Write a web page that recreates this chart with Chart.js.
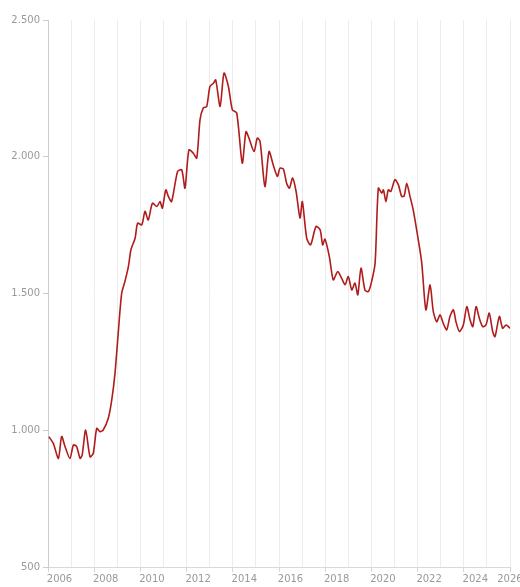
<!DOCTYPE html>
<html>
<head>
<meta charset="utf-8">
<script src="https://cdn.jsdelivr.net/npm/chart.js@4.4.1/dist/chart.umd.min.js"></script>
<style>
  html, body { margin: 0; padding: 0; background: #fff; }
  #wrap { width: 520px; height: 587px; position: relative; }
</style>
</head>
<body>
<div id="wrap"><canvas id="c" width="520" height="587"></canvas></div>
<script>
// Decimal-year positions of the points
const years = [
  2006.04, 2006.23, 2006.45, 2006.59, 2006.74, 2006.95, 2007.10, 2007.24, 2007.39, 2007.48,
  2007.63, 2007.82, 2007.96, 2008.11, 2008.25, 2008.39, 2008.61, 2008.76, 2008.90, 2009.04,
  2009.19, 2009.33, 2009.48, 2009.59, 2009.77, 2009.88, 2010.06, 2010.20, 2010.34, 2010.52,
  2010.71, 2010.85, 2010.95, 2011.10, 2011.21, 2011.35, 2011.61, 2011.79, 2011.93, 2012.10,
  2012.29, 2012.44, 2012.58, 2012.72, 2012.87, 2013.01, 2013.16, 2013.26, 2013.45, 2013.62,
  2013.81, 2013.98, 2014.17, 2014.41, 2014.57, 2014.70, 2014.92, 2015.06, 2015.18, 2015.39,
  2015.57, 2015.75, 2015.93, 2016.04, 2016.19, 2016.33, 2016.45, 2016.59, 2016.74, 2016.91,
  2017.01, 2017.20, 2017.37, 2017.60, 2017.78, 2017.89, 2017.99, 2018.18, 2018.35, 2018.54,
  2018.71, 2018.86, 2019.00, 2019.15, 2019.29, 2019.41, 2019.55, 2019.72, 2019.87, 2020.01,
  2020.16, 2020.30, 2020.45, 2020.52, 2020.63, 2020.73, 2020.84, 2021.02, 2021.17, 2021.31,
  2021.42, 2021.53, 2021.67, 2021.81, 2022.03, 2022.18, 2022.36, 2022.54, 2022.68, 2022.83,
  2022.97, 2023.11, 2023.26, 2023.40, 2023.55, 2023.66, 2023.81, 2023.98, 2024.13, 2024.27,
  2024.39, 2024.53, 2024.67, 2024.82, 2024.96, 2025.10, 2025.25, 2025.35, 2025.54, 2025.68,
  2025.83, 2026.00
];
// Series values
const values = [
  976, 952, 897, 977, 940, 897, 946, 940, 897, 910,
  1001, 903, 916, 1007, 995, 1001, 1044, 1111, 1208, 1355,
  1501, 1544, 1598, 1660, 1702, 1757, 1751, 1800, 1769, 1830,
  1818, 1836, 1812, 1879, 1855, 1836, 1946, 1952, 1885, 2025,
  2013, 1995, 2135, 2178, 2184, 2257, 2269, 2281, 2184, 2306,
  2257, 2172, 2160, 1977, 2092, 2068, 2019, 2068, 2056, 1891,
  2019, 1970, 1928, 1958, 1955, 1903, 1885, 1922, 1873, 1776,
  1836, 1702, 1678, 1745, 1733, 1678, 1699, 1635, 1550, 1580,
  1556, 1532, 1562, 1513, 1538, 1495, 1593, 1513, 1507, 1544,
  1611, 1885, 1867, 1879, 1836, 1879, 1873, 1916, 1897, 1855,
  1857, 1903, 1855, 1806, 1696, 1611, 1440, 1532, 1434, 1397,
  1422, 1391, 1367, 1416, 1440, 1397, 1361, 1385, 1452, 1404,
  1379, 1452, 1410, 1379, 1385, 1428, 1361, 1342, 1416, 1373,
  1385, 1373
];
// Tick labels
const xTickLabels = [2006, 2008, 2010, 2012, 2014, 2016, 2018, 2020, 2022, 2024, 2026];
const yTickLabels = [500, 1000, 1500, 2000, 2500];

const X_MIN = xTickLabels[0];
const X_MAX = xTickLabels[xTickLabels.length - 1];
// the last label is pulled half a year inside so that it stays on the canvas
const LAST_LABEL_POS = X_MAX - 0.5;

const fmt = v => String(v).replace(/\B(?=(\d{3})+(?!\d))/g, '.');
const points = years.map((x, i) => ({ x: x, y: values[i] }));
const isYear = v => Number.isInteger(v);

new Chart(document.getElementById('c'), {
  type: 'line',
  data: {
    datasets: [{
      data: points,
      borderColor: '#b01c1c',
      borderWidth: 1.6,
      pointRadius: 0,
      tension: 0.25,
      fill: false
    }]
  },
  options: {
    responsive: false,
    animation: false,
    devicePixelRatio: 1,
    layout: { padding: { top: 20, right: 10, left: 0, bottom: 0 } },
    plugins: { legend: { display: false }, tooltip: { enabled: false } },
    scales: {
      x: {
        type: 'linear',
        min: X_MIN,
        max: X_MAX,
        afterBuildTicks: s => {
          const t = [];
          for (let y = X_MIN; y <= X_MAX; y++) t.push({ value: y });
          t.splice(t.length - 1, 0, { value: LAST_LABEL_POS });
          s.ticks = t;
        },
        afterFit: s => { s.height = 20; s.paddingLeft = 0; s.paddingRight = 0; },
        grid: {
          color: ctx => (ctx.tick && isYear(ctx.tick.value) ? '#ececec' : 'rgba(0,0,0,0)'),
          lineWidth: 1,
          drawTicks: true,
          tickLength: 5,
          tickColor: ctx => (ctx.tick && isYear(ctx.tick.value) && xTickLabels.includes(ctx.tick.value) ? '#d8d8d8' : 'rgba(0,0,0,0)')
        },
        border: { display: true, color: '#d8d8d8' },
        ticks: {
          autoSkip: false,
          maxRotation: 0,
          padding: 1,
          labelOffset: 11.5,
          color: '#999',
          font: { family: 'DejaVu Sans', size: 10 },
          callback: v => {
            if (v === LAST_LABEL_POS) return String(X_MAX);
            if (v === X_MAX) return '';
            return xTickLabels.includes(v) ? String(v) : '';
          }
        }
      },
      y: {
        min: yTickLabels[0],
        max: yTickLabels[yTickLabels.length - 1],
        afterBuildTicks: s => { s.ticks = yTickLabels.map(v => ({ value: v })); },
        afterFit: s => { s.width = 48; },
        grid: {
          drawOnChartArea: false,
          drawTicks: true,
          tickLength: 5,
          tickColor: '#cccccc'
        },
        border: { display: true, color: '#cccccc' },
        ticks: {
          padding: 3,
          color: '#999',
          font: { family: 'DejaVu Sans', size: 10 },
          callback: v => fmt(v)
        }
      }
    }
  }
});
</script>
</body>
</html>
